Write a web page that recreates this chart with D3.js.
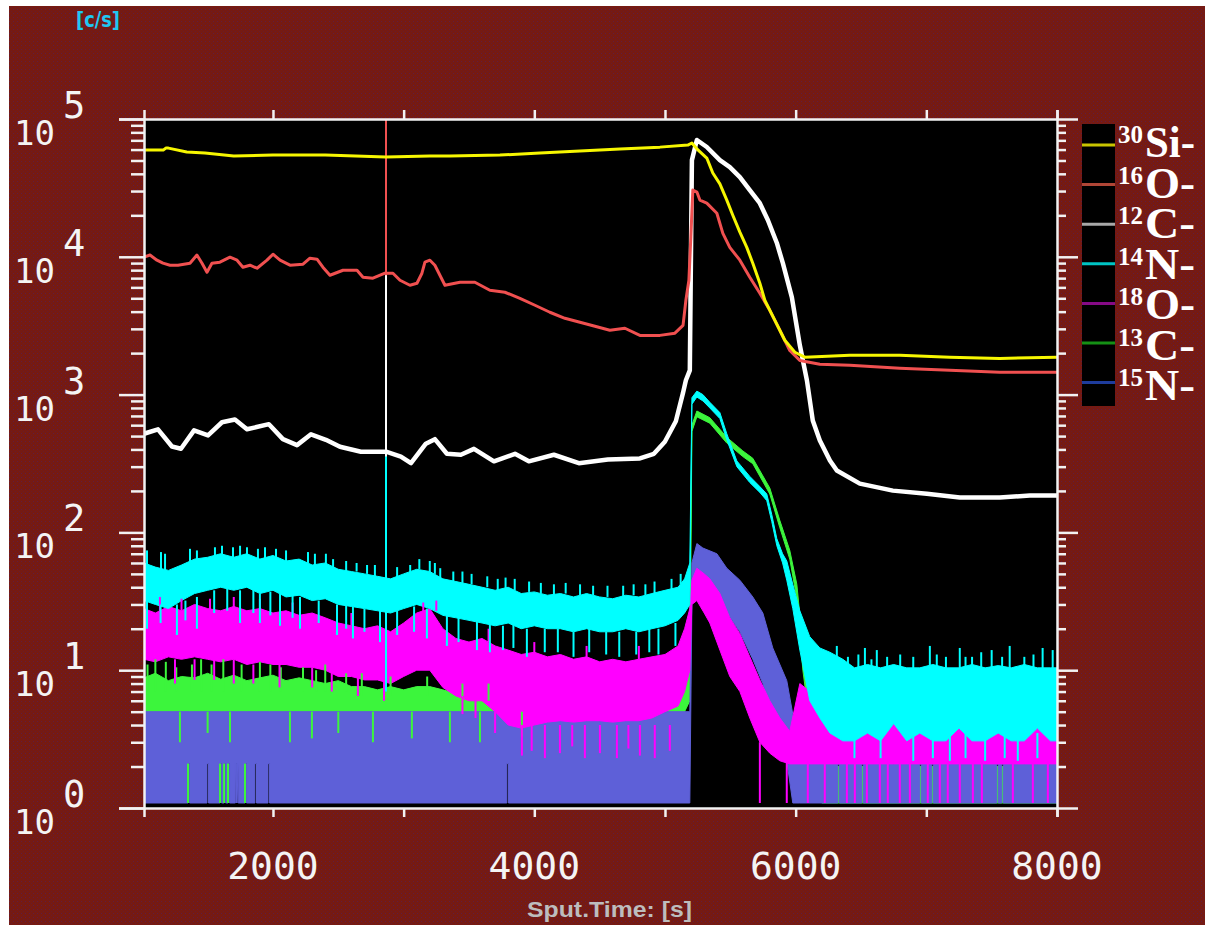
<!DOCTYPE html>
<html>
<head>
<meta charset="utf-8">
<script src="https://cdn.jsdelivr.net/npm/d3@7"></script>
<style>
  body { margin: 0; background: #fff; }
  svg { display: block; }
</style>
</head>
<body>
<svg id="chart" width="1205" height="925"></svg>
<script>
// ---- data (time in s, intensity in c/s, 0 = no counts) ----
const xTickValues = [2000, 3000, 4000, 5000, 6000, 7000, 8000];
const xLabelValues = [2000, 4000, 6000, 8000];
const decades = [0, 1, 2, 3, 4, 5];

// 30Si- (yellow)
const siT = [1013, 1160, 1180, 1200, 1340, 1480, 1700, 2000, 2400, 2865, 3200, 3354, 3737, 4043, 4349, 4655, 4961, 5175, 5206, 5252, 5320, 5366, 5420, 5473, 5519, 5573, 5626, 5672, 5726, 5764, 5841, 5917, 5994, 6070, 6415, 6797, 7180, 7562, 8000];
const siV = [59500, 59500, 61500, 61500, 57600, 56600, 53800, 54700, 54700, 52900, 53800, 53800, 54700, 56600, 58500, 60500, 62500, 64700, 67000, 59600, 52100, 40600, 33800, 25800, 20000, 15100, 11700, 8990, 6430, 4840, 3460, 2480, 2030, 1870, 1930, 1930, 1870, 1830, 1870];

// 16O- (red)
const o16T = [1013, 1059, 1112, 1158, 1212, 1273, 1365, 1418, 1457, 1495, 1533, 1594, 1671, 1725, 1770, 1824, 1878, 1954, 2000, 2054, 2130, 2230, 2283, 2337, 2382, 2436, 2536, 2643, 2689, 2765, 2857, 2918, 2972, 3048, 3102, 3140, 3163, 3201, 3239, 3316, 3431, 3545, 3660, 3775, 3890, 4005, 4119, 4234, 4349, 4464, 4578, 4693, 4808, 4961, 5076, 5138, 5160, 5183, 5198, 5213, 5244, 5267, 5320, 5397, 5443, 5496, 5573, 5649, 5726, 5802, 5879, 5955, 6032, 6185, 6415, 6797, 7180, 7562, 8000];
const o16V = [9940, 10300, 9450, 8990, 8690, 8690, 8990, 10300, 8990, 7730, 8990, 9140, 9940, 9450, 8400, 8690, 8260, 9450, 10440, 9450, 8690, 8840, 9770, 9610, 8400, 7350, 7990, 7990, 7110, 6990, 7600, 7600, 6760, 6220, 6430, 7600, 9140, 9450, 8690, 6220, 6540, 6540, 5720, 5530, 5000, 4450, 3960, 3580, 3350, 3130, 2930, 3030, 2690, 2690, 2790, 3180, 4840, 6760, 14000, 30500, 29500, 25800, 24500, 20700, 14800, 11700, 9450, 7110, 5440, 4090, 2930, 2090, 1770, 1660, 1630, 1550, 1500, 1450, 1450];

// 12C- (white)
const c12T = [1013, 1120, 1227, 1296, 1396, 1503, 1610, 1709, 1801, 1969, 2076, 2184, 2291, 2405, 2513, 2673, 2865, 2979, 3056, 3170, 3239, 3331, 3438, 3538, 3691, 3852, 3958, 4150, 4341, 4563, 4808, 4915, 4999, 5083, 5137, 5160, 5190, 5206, 5244, 5320, 5420, 5496, 5573, 5649, 5726, 5787, 5856, 5902, 5971, 6032, 6086, 6131, 6185, 6262, 6315, 6491, 6744, 7004, 7256, 7562, 7792, 8000];
const c12V = [520, 560, 420, 405, 550, 505, 630, 660, 560, 610, 475, 430, 515, 470, 418, 385, 385, 355, 318, 440, 475, 372, 366, 404, 328, 372, 328, 366, 318, 338, 344, 372, 455, 640, 1020, 1270, 1500, 50300, 70400, 62600, 50300, 44800, 37900, 30500, 24500, 18500, 12600, 8990, 5080, 2280, 1270, 649, 465, 333, 281, 226, 201, 191, 179, 179, 185, 185];

// 14N- (cyan) band: upper / lower envelope of the noisy trace
const n14T = [1013, 1100, 1200, 1300, 1400, 1500, 1600, 1700, 1800, 1900, 2000, 2100, 2200, 2300, 2400, 2500, 2600, 2700, 2800, 2900, 3000, 3100, 3200, 3300, 3400, 3500, 3600, 3700, 3800, 3900, 4000, 4100, 4200, 4300, 4400, 4500, 4600, 4700, 4800, 4900, 5000, 5100, 5150, 5190, 5206, 5244, 5290, 5343, 5420, 5473, 5550, 5649, 5726, 5779, 5817, 5856, 5900, 5932, 5978, 6032, 6108, 6185, 6262, 6361, 6450, 6550, 6650, 6750, 6850, 6950, 7050, 7150, 7250, 7350, 7450, 7550, 7650, 7750, 7850, 7950, 8000];
const n14Hi = [60, 56, 53, 58, 64, 66, 70, 66, 70, 64, 68, 62, 64, 58, 60, 54, 52, 50, 48, 46, 50, 54, 52, 46, 44, 42, 40, 38, 40, 36, 37, 35, 36, 34, 36, 34, 33, 35, 34, 36, 38, 40, 46, 60, 950, 1060, 1000, 880, 740, 520, 330, 255, 215, 190, 135, 90, 70, 62, 42, 27, 17.5, 14.5, 13.5, 12, 10.4, 11, 10.4, 11, 10.4, 10.4, 11, 10.4, 10.4, 11, 10.4, 10.8, 10.4, 11, 10.4, 10.4, 10.4];
const n14Lo = [32, 30, 28, 32, 36, 38, 40, 38, 40, 36, 38, 34, 35, 32, 33, 30, 29, 28, 27, 26, 28, 30, 28, 25, 24, 23, 22, 21, 22, 20, 21, 20, 20, 19, 20, 19, 19, 20, 19, 20, 21, 23, 26, 30, 850, 960, 900, 800, 670, 470, 300, 230, 195, 170, 120, 80, 60, 45, 28, 14, 6, 4.5, 3.5, 3.07, 3.07, 3.5, 3.07, 4.1, 3.07, 3.5, 3.07, 3.07, 3.8, 3.07, 3.07, 3.5, 3.07, 3.07, 3.8, 3.07, 3.07];

// 18O- (magenta) band
const o18T = [1013, 1100, 1200, 1300, 1400, 1500, 1600, 1700, 1800, 1900, 2000, 2100, 2200, 2300, 2400, 2500, 2600, 2700, 2800, 2900, 3000, 3100, 3200, 3300, 3400, 3500, 3600, 3700, 3800, 3900, 4000, 4100, 4200, 4300, 4400, 4500, 4600, 4700, 4800, 4900, 5000, 5100, 5150, 5190, 5206, 5244, 5300, 5343, 5420, 5496, 5573, 5649, 5726, 5802, 5879, 5955, 6032, 6108, 6185, 6262, 6350, 6450, 6550, 6650, 6750, 6850, 6950, 7050, 7150, 7250, 7350, 7450, 7550, 7650, 7750, 7850, 7950, 8000];
const o18Hi = [28, 26, 29, 27, 30, 28, 27, 29, 27, 28, 26, 27, 25, 26, 24, 22, 21, 20, 21, 19, 22, 26, 28, 20, 17, 16, 17, 15, 14, 13, 13.5, 12.5, 13, 12, 12.5, 11.5, 12, 11.5, 12, 12.5, 13, 15, 20, 28, 45, 55, 50, 46, 36, 24, 18.4, 12.5, 8.5, 6, 4.5, 3.6, 8, 7, 6, 5, 4.3, 3.8, 4.3, 4.8, 4.3, 4.3, 3.8, 4.3, 4.8, 4.3, 4.3, 3.8, 4.3, 4.3, 4.8, 4.3, 4.3, 4.3];
const o18Lo = [12, 11.5, 12.5, 12, 12.5, 12, 11.5, 12, 11, 11.5, 11, 11, 10.5, 10.5, 10, 9, 9, 8.5, 8.5, 8, 9, 10, 10, 7.5, 6.5, 6, 6, 5, 4, 3.8, 4, 4.2, 4.3, 4.2, 4.3, 4.3, 4.2, 4.3, 4.3, 4.5, 5, 5.5, 7, 10, 30, 32, 26, 22, 14, 9, 7, 4.5, 3, 2.5, 2.2, 2.09, 2.09, 2.09, 2.09, 2.09, 2.09, 2.09, 2.09, 2.09, 2.09, 2.09, 2.09, 2.09, 2.09, 2.09, 2.09, 2.09, 2.09, 2.09, 2.09, 2.09, 2.09, 2.09];

// 13C- (green) band
const c13T = [1013, 1100, 1200, 1300, 1400, 1500, 1600, 1700, 1800, 1900, 2000, 2100, 2200, 2300, 2400, 2500, 2600, 2700, 2800, 2900, 3000, 3100, 3200, 3300, 3400, 3500, 3600, 3700, 3800, 3900, 4000, 4100, 4200, 4300, 4400, 4500, 4600, 4700, 4800, 4900, 5000, 5100, 5150, 5190, 5206, 5244, 5343, 5473, 5596, 5672, 5802, 5879, 5955, 6009, 6055, 6086, 6131, 6200, 8000];
const c13Hi = [8.8, 9.5, 8.4, 9, 8.8, 9.5, 8.6, 9.2, 8.4, 8.8, 9.2, 8.4, 8.8, 8.4, 8, 8.4, 7.6, 7.6, 7.2, 7.6, 7.2, 7.6, 7.6, 7.2, 6.8, 6.8, 6.5, 6.8, 6.5, 6.3, 6.5, 6.2, 6.3, 6.2, 6.2, 6, 6.2, 6, 6.2, 6.2, 6.5, 7.5, 12, 25, 600, 760, 680, 490, 390, 345, 210, 122, 74, 42, 15, 9, 6.5, 2, 2];
const c13Lo = [5, 5, 5, 5, 5, 5, 5, 5, 5, 5, 5, 5, 5, 5, 5, 5, 5, 5, 5, 5, 5, 5, 5, 5, 5, 5, 5, 5, 5, 5, 5, 5, 5, 5, 5, 5, 5, 5, 5, 5, 5, 5, 5, 6, 540, 690, 620, 445, 355, 315, 190, 108, 64, 33, 10, 6, 4, 0, 0];

// 15N- (blue) band
const n15T = [1013, 5190, 5206, 5244, 5290, 5397, 5473, 5573, 5672, 5749, 5825, 5932, 5978, 6032, 8000];
const n15Hi = [5, 5, 60, 83, 77, 70, 55, 45, 34, 26, 14.5, 8.4, 4.8, 2.09, 2.09];
const n15Lo = [0, 0, 30, 42, 40, 34, 26, 19, 12, 8, 4.5, 2.2, 0, 0, 0];
// channels where 15N never drops to zero (lower bound 2 c/s)
const n15GapT = [1350, 1495, 1595, 1626, 1656, 1712, 1722, 1786, 1862, 1962, 3790, 6323, 6506, 6950, 7042, 7539, 7577];

// single-channel excursions: [time, from, to]
const c13Spikes = [[1288, 5, 3], [1500, 5, 3.5], [1671, 5, 3], [2130, 5, 3], [2298, 5, 3.2], [2500, 5, 3.5], [2765, 5, 3], [3063, 5, 3.2], [3354, 5, 3], [3584, 5, 3], [3905, 5, 3.3],
  [1350, 2.1, 0], [1595, 2.1, 0], [1626, 2.1, 0], [1656, 2.1, 0], [1786, 2.1, 0],
  [1040, 7, 11], [1100, 7, 12], [1180, 7, 11.5], [1260, 7, 10.5], [1380, 7, 11], [1450, 7, 12], [1530, 7, 11], [1620, 7, 12], [1760, 7, 11], [1900, 7, 11.5], [1980, 7, 11], [2060, 7, 10.5], [2230, 7, 10.5], [2330, 7, 10], [2400, 7, 11], [2560, 7, 9.5], [2680, 6.5, 9.5], [2900, 6.5, 9], [3180, 6.5, 9], [3450, 6, 8], [3650, 6, 8]];
const o18Spikes = [[1135, 25, 34], [1518, 25, 33], [1900, 25, 33], [1300, 27, 33], [1700, 28, 34], [2150, 26, 31], [2600, 21, 26], [3150, 26, 31], [3250, 27, 32], [3650, 16, 20], [4000, 13, 16], [4400, 12, 15], [4800, 12, 15],
  [1250, 12, 8], [1400, 12, 8.5], [1700, 12, 8], [2050, 11, 7.5], [2300, 10.5, 7.5], [1550, 12, 8.5], [1850, 11, 8], [2450, 10, 7], [2650, 9, 6.5], [2850, 8.5, 6], [3450, 6.5, 4.8], [3550, 6, 4.5], [3700, 5, 3.5],
  [3905, 4, 2.4], [3980, 4, 2.6], [4081, 4, 2.3], [4196, 4, 2.5], [4290, 4, 2.8], [4387, 4, 2.3], [4502, 4, 2.5], [4632, 4, 2.3], [4720, 4, 2.7], [4808, 4, 2.4], [4922, 4, 2.3], [5037, 4, 2.6],
  [5726, 3, 0], [5932, 2.5, 0],
  [6093, 2.5, 0], [6223, 2.5, 0], [6392, 2.5, 0], [6453, 2.5, 0], [6545, 2.5, 0], [6644, 2.5, 0], [6705, 2.5, 0], [6797, 2.5, 0], [6874, 2.5, 0], [7011, 2.5, 0], [7103, 2.5, 0], [7164, 2.5, 0], [7256, 2.5, 0], [7356, 2.5, 0], [7425, 2.5, 0], [7662, 2.5, 0], [7815, 2.5, 0], [7930, 2.5, 0]];
const n14Spikes = [[1036, 55, 74], [1143, 52, 72], [1174, 52, 70], [1365, 60, 76], [1418, 62, 74], [1556, 64, 78], [1610, 66, 80], [1694, 64, 78], [1748, 66, 80], [1801, 66, 78], [1885, 62, 76], [1939, 64, 78], [2023, 64, 76], [2100, 60, 74], [2268, 60, 72], [2321, 56, 70], [2405, 56, 70], [3200, 50, 62], [3239, 50, 60],
  [2460, 54, 64], [2560, 52, 62], [2640, 52, 60], [2720, 50, 58], [2780, 48, 58], [2950, 46, 56], [3050, 50, 58], [3120, 54, 64], [3280, 46, 55], [3380, 44, 52], [3450, 43, 52], [3520, 42, 50], [3640, 40, 48], [3720, 38, 46], [3780, 39, 47], [3850, 38, 46], [3960, 37, 44], [4050, 36, 43], [4150, 35, 42], [4240, 36, 43], [4350, 35, 42], [4450, 35, 41], [4560, 34, 41], [4680, 34, 41], [4760, 35, 42], [4850, 35, 42], [4920, 36, 44], [5050, 38, 46], [5120, 42, 50],
  [1036, 32, 20], [1265, 30, 18], [1418, 34, 20], [1748, 38, 22], [1900, 36, 22], [2054, 36, 21], [2207, 34, 20], [2490, 30, 18], [2612, 29, 17], [2819, 27, 16], [3178, 28, 17], [3331, 25, 15], [3561, 23, 14], [3660, 22, 13.5], [3943, 20, 12.5], [4300, 19, 12.5], [4650, 19, 12.5], [4950, 20, 13],
  [1140, 30, 22], [1330, 32, 23], [1550, 38, 26], [1650, 40, 27], [1850, 39, 26], [1980, 37, 25], [2150, 35, 24], [2350, 32, 22], [2560, 30, 20], [2700, 28, 19], [2950, 27, 18], [3080, 29, 19], [3420, 24, 16], [3760, 21, 14], [3840, 22, 14.5], [4080, 20, 13.5], [4180, 20, 13.5], [4420, 20, 13.5], [4550, 19, 13], [4780, 19, 13], [4880, 20, 13.5], [5080, 22, 15],
  [6170, 10, 14.5], [6315, 10, 15], [6530, 10, 14.5], [6621, 10, 14], [7027, 10, 15], [7256, 10, 14.5], [7500, 10, 14], [7638, 10, 15], [7890, 10, 14.5], [7967, 10, 14], [6400, 10, 12.5], [6700, 10, 12.5], [6900, 10, 12.5], [7150, 10, 12.5], [7350, 10, 12.5], [7750, 10, 12.5],
  [6250, 10, 13], [6480, 10, 13], [6580, 10, 12], [6800, 10, 13], [7080, 10, 13], [7300, 10, 12.5], [7420, 10, 13.5], [7580, 10, 12.5], [7820, 10, 13],
  [6900, 3.5, 2.2], [7180, 3.5, 2.2], [7450, 3.5, 2.2], [7700, 3.5, 2.2], [6450, 3.5, 2.3], [6650, 3.5, 2.3], [7050, 3.5, 2.3], [7300, 3.5, 2.3], [7600, 3.5, 2.3], [7850, 3.5, 2.3]];

// one glitch channel hits every mass
const glitchT = 2865;
const o16Glitch = [100000, 7350];
const c12Glitch = [100000, 355];
const n14Glitch = [490, 7];

// legend
const legendMass = ['30', '16', '12', '14', '18', '13', '15'];
const legendElem = ['Si-', 'O-', 'C-', 'N-', 'O-', 'C-', 'N-'];

// ---- drawing ----
const colors = {
  si: '#f6f600', o16: '#f05050', c12: '#ffffff', n14: '#00ffff',
  o18: '#ff00ff', c13: '#3cf53c', n15: '#5e60d8'
};
const legendColors = ['#c9c400', '#b04636', '#a8a8a8', '#00c4c4', '#860a86', '#159015', '#1e3c9c'];

const svg = d3.select('#chart');
const x = d3.scaleLinear().domain([1013, 8000]).range([144, 1057]);
const y = d3.scaleLog().domain([1, 1e5]).range([808, 119]);
const floorY = y(1) - 5; // zero counts sit just above the axis
const yv = v => v <= 0 ? floorY : y(v);

// background texture
const defs = svg.append('defs');
const pat = defs.append('pattern').attr('id', 'bgdots')
  .attr('patternUnits', 'userSpaceOnUse').attr('width', 4).attr('height', 4);
pat.append('rect').attr('width', 4).attr('height', 4).attr('fill', '#761a12');
pat.append('rect').attr('x', 1).attr('y', 1).attr('width', 1).attr('height', 1).attr('fill', '#5e1c42');
pat.append('rect').attr('x', 3).attr('y', 3).attr('width', 1).attr('height', 1).attr('fill', '#661b2c');
defs.append('clipPath').attr('id', 'plotclip').append('rect')
  .attr('x', 144).attr('y', 119).attr('width', 913).attr('height', 689);

svg.append('rect').attr('x', 9).attr('y', 6).attr('width', 1196).attr('height', 919).attr('fill', 'url(#bgdots)');
svg.append('rect').attr('x', 144).attr('y', 119).attr('width', 913).attr('height', 689).attr('fill', '#000');

const plot = svg.append('g').attr('clip-path', 'url(#plotclip)');

function bandData(T, hi, lo, gaps) {
  const pts = T.map((t, i) => ({ t: t, hi: hi[i], lo: lo[i] }));
  (gaps || []).forEach(g => {
    const i = Math.max(0, d3.bisectRight(T, g) - 1);
    const f = (g - T[i]) / (T[i + 1] - T[i]);
    const h = hi[i] + f * (hi[i + 1] - hi[i]);
    const l = lo[i] + f * (lo[i + 1] - lo[i]);
    const gl = Math.min(2.1, h);
    pts.push({ t: g, hi: h, lo: l }, { t: g, hi: h, lo: gl }, { t: g + 12, hi: h, lo: gl }, { t: g + 12, hi: h, lo: l });
  });
  return pts.sort((a, b) => a.t - b.t);
}

const area = d3.area().x(d => x(d.t)).y0(d => yv(d.lo)).y1(d => yv(d.hi));
const line = d3.line().x(d => x(d[0])).y(d => yv(d[1]));

function drawBand(T, hi, lo, color, gaps) {
  plot.append('path').datum(bandData(T, hi, lo, gaps))
    .attr('d', area).attr('fill', color).attr('stroke', color).attr('stroke-width', 1);
}
function drawSpikes(list, color) {
  plot.append('g').selectAll('line').data(list).enter().append('line')
    .attr('x1', d => x(d[0])).attr('x2', d => x(d[0]))
    .attr('y1', d => yv(d[1])).attr('y2', d => yv(d[2]))
    .attr('stroke', color).attr('stroke-width', 2);
}
function drawLine(T, V, color, w) {
  plot.append('path').datum(T.map((t, i) => [t, V[i]]))
    .attr('d', line).attr('fill', 'none').attr('stroke', color)
    .attr('stroke-width', w).attr('stroke-linejoin', 'round');
}
function drawGlitch(range, color) {
  plot.append('line').attr('x1', x(glitchT)).attr('x2', x(glitchT))
    .attr('y1', yv(range[0])).attr('y2', yv(range[1]))
    .attr('stroke', color).attr('stroke-width', 2);
}

drawBand(c13T, c13Hi, c13Lo, colors.c13);
drawBand(n15T, n15Hi, n15Lo, colors.n15, n15GapT);
drawBand(o18T, o18Hi, o18Lo, colors.o18);
drawBand(n14T, n14Hi, n14Lo, colors.n14);
drawSpikes(c13Spikes, colors.c13);
drawSpikes(o18Spikes, colors.o18);
drawSpikes(n14Spikes, colors.n14);
drawGlitch(n14Glitch, colors.n14);
drawLine(c12T, c12V, colors.c12, 4.5);
drawGlitch(c12Glitch, colors.c12);
drawLine(o16T, o16V, colors.o16, 3);
drawGlitch(o16Glitch, colors.o16);
drawLine(siT, siV, colors.si, 3);

// ---- axes ----
const axisColor = '#f2f2f2';
function styleAxis(g, keepDomain) {
  if (keepDomain) g.select('.domain').attr('stroke', axisColor).attr('stroke-width', 2.5);
  else g.select('.domain').remove();
  g.selectAll('.tick line').attr('stroke', axisColor).attr('stroke-width', 2.5);
  g.selectAll('.tick text').remove();
}
const majorY = decades.map(k => Math.pow(10, k));
const minorY = y.ticks().filter(v => Math.abs(Math.log10(v) - Math.round(Math.log10(v))) > 1e-6);

svg.append('g').attr('transform', 'translate(0,119)')
  .call(d3.axisTop(x).tickValues(xTickValues).tickSize(9).tickSizeOuter(9)).call(g => styleAxis(g, true));
svg.append('g').attr('transform', 'translate(0,808)')
  .call(d3.axisBottom(x).tickValues(xTickValues).tickSize(9).tickSizeOuter(9)).call(g => styleAxis(g, true));
svg.append('g').attr('transform', 'translate(144,0)')
  .call(d3.axisLeft(y).tickValues(majorY).tickSize(25).tickSizeOuter(25)).call(g => styleAxis(g, true));
svg.append('g').attr('transform', 'translate(144,0)')
  .call(d3.axisLeft(y).tickValues(minorY).tickSize(13).tickSizeOuter(0)).call(g => styleAxis(g, false));
svg.append('g').attr('transform', 'translate(1057,0)')
  .call(d3.axisRight(y).tickValues(majorY).tickSize(21).tickSizeOuter(0)).call(g => styleAxis(g, true));
svg.append('g').attr('transform', 'translate(1057,0)')
  .call(d3.axisRight(y).tickValues(minorY).tickSize(9).tickSizeOuter(0)).call(g => styleAxis(g, false));

// y labels: 10 with exponent
const ylab = svg.append('g').attr('font-family', 'DejaVu Sans Mono').attr('fill', '#f4f4f4');
decades.forEach(k => {
  const ty = y(Math.pow(10, k));
  ylab.append('text').attr('x', 14).attr('y', ty + 26).attr('font-size', 34).text('10');
  ylab.append('text').attr('x', 63).attr('y', ty - 1).attr('font-size', 37).text(k);
});

// x labels
svg.append('g').selectAll('text').data(xLabelValues).enter().append('text')
  .attr('x', d => x(d)).attr('y', 879).attr('text-anchor', 'middle')
  .attr('font-family', 'DejaVu Sans Mono').attr('font-size', 38).attr('fill', '#f4f4f4')
  .text(d => d);

svg.append('text').attr('x', 527).attr('y', 917)
  .attr('font-family', 'Liberation Sans Narrow, Liberation Sans, sans-serif').attr('font-weight', 'bold')
  .attr('font-size', 22).attr('fill', '#bdbdbd')
  .attr('textLength', 165).attr('lengthAdjust', 'spacingAndGlyphs')
  .text('Sput.Time: [s]');

svg.append('text').attr('x', 76).attr('y', 27)
  .attr('font-family', 'DejaVu Sans').attr('font-weight', 'bold')
  .attr('font-size', 21).attr('fill', '#1ec8f2')
  .attr('textLength', 44).attr('lengthAdjust', 'spacingAndGlyphs')
  .text('[c/s]');

// ---- legend ----
svg.append('rect').attr('x', 1082).attr('y', 124).attr('width', 33).attr('height', 282).attr('fill', '#000');
const leg = svg.append('g').attr('font-family', 'Liberation Serif, serif').attr('font-weight', 'bold').attr('fill', '#fff');
legendMass.forEach((m, i) => {
  const ly = 145 + i * 39.6;
  leg.append('line').attr('x1', 1082).attr('x2', 1115).attr('y1', ly).attr('y2', ly)
    .attr('stroke', legendColors[i]).attr('stroke-width', 3);
  const ty = 157 + i * 40.5;
  leg.append('text').attr('x', 1118).attr('y', ty - 14).attr('font-size', 25).text(m);
  leg.append('text').attr('x', 1145).attr('y', ty).attr('font-size', 44)
    .attr('textLength', 50).attr('lengthAdjust', 'spacingAndGlyphs').text(legendElem[i]);
});
</script>
</body>
</html>
